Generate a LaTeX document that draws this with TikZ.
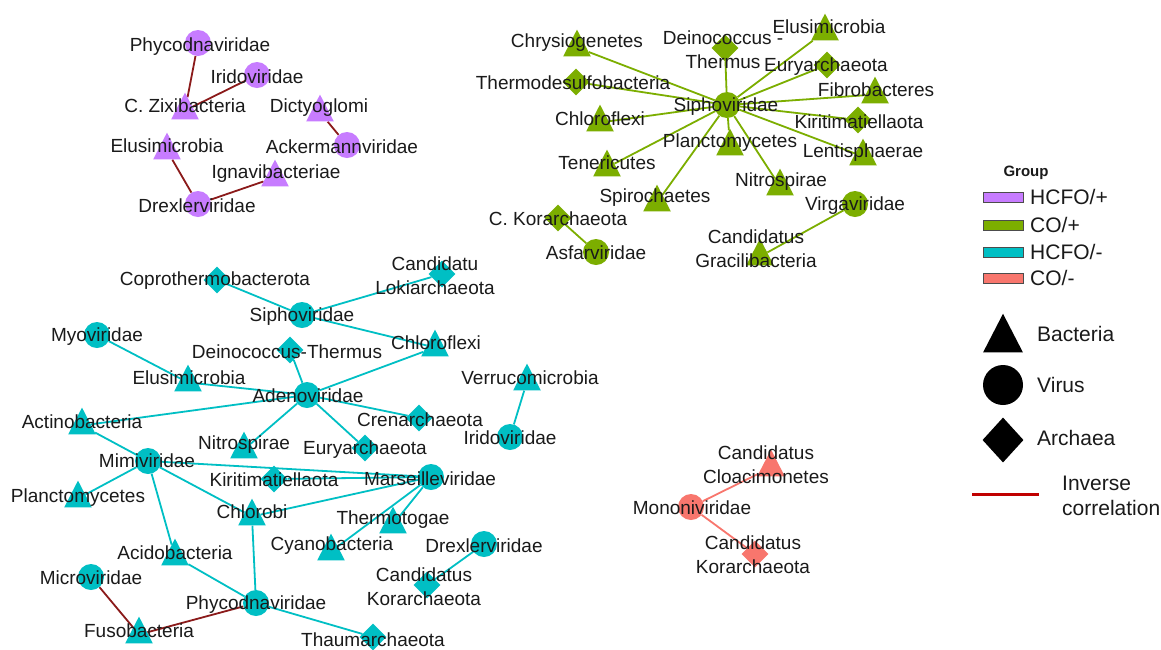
\documentclass[tikz,border=0pt]{standalone}
\usepackage{fontspec}
\setmainfont{Liberation Sans}
\usetikzlibrary{shapes.geometric,backgrounds}
\definecolor{cpur}{HTML}{C77CFF}
\definecolor{cgrn}{HTML}{7CAE00}
\definecolor{ccya}{HTML}{00BFC4}
\definecolor{cred}{HTML}{F8766D}
\definecolor{cinv}{HTML}{8B1A1A}
\definecolor{clegred}{HTML}{C00000}
\definecolor{ctxt}{HTML}{1A1A1A}
\tikzset{
  vir/.style={circle, minimum size=26pt, inner sep=0pt, draw=none},
  bac/.style={regular polygon, regular polygon sides=3, minimum size=32pt, inner sep=0pt, draw=none, yshift=-4.5pt, yscale=1.12},
  arc/.style={diamond, minimum width=27pt, minimum height=27pt, inner sep=0pt, draw=none},
  lbl/.style={font=\fontsize{19}{24}\selectfont, inner sep=0pt, align=center, text=ctxt},
  gedge/.style={line width=1.8pt, draw=cgrn},
  cedge/.style={line width=1.8pt, draw=ccya},
  redge/.style={line width=1.8pt, draw=cred},
  iedge/.style={line width=1.8pt, draw=cinv},
  legbox/.style={rectangle, minimum width=40pt, minimum height=10pt, inner sep=0pt, draw=black!70, line width=1pt},
  leglbl/.style={font=\fontsize{21}{25}\selectfont, inner sep=0pt, anchor=west, align=left, text=ctxt},
}
\begin{document}
\begin{tikzpicture}[x=1pt,y=-1pt]
\useasboundingbox (0,0) rectangle (1161,649);
% ---------- purple cluster (HCFO/+)
\node[vir,fill=cpur] (p1) at (198,43) {};
\node[vir,fill=cpur] (p2) at (257,75) {};
\node[bac,fill=cpur] (p3) at (185,106) {};
\node[bac,fill=cpur] (p4) at (320,108) {};
\node[vir,fill=cpur] (p5) at (347,145) {};
\node[bac,fill=cpur] (p6) at (167,146) {};
\node[bac,fill=cpur] (p7) at (275,173) {};
\node[vir,fill=cpur] (p8) at (198,204) {};
% ---------- green cluster (CO/+)
\node[vir,fill=cgrn] (g0) at (727,105) {};
\node[bac,fill=cgrn] (g1) at (577,43) {};
\node[arc,fill=cgrn] (g2) at (725,48) {};
\node[bac,fill=cgrn] (g3) at (825,27) {};
\node[arc,fill=cgrn] (g4) at (827,65) {};
\node[bac,fill=cgrn] (g5) at (875,90) {};
\node[arc,fill=cgrn] (g6) at (576,82) {};
\node[bac,fill=cgrn] (g7) at (600,118) {};
\node[arc,fill=cgrn] (g8) at (858,120) {};
\node[bac,fill=cgrn] (g9) at (730,142) {};
\node[bac,fill=cgrn] (g10) at (863,152) {};
\node[bac,fill=cgrn] (g11) at (607,163) {};
\node[bac,fill=cgrn] (g12) at (780,182) {};
\node[bac,fill=cgrn] (g13) at (657,198) {};
\node[arc,fill=cgrn] (g14) at (558,218) {};
\node[vir,fill=cgrn] (g15) at (596,252) {};
\node[vir,fill=cgrn] (g16) at (855,204) {};
\node[bac,fill=cgrn] (g17) at (760,252) {};
% ---------- cyan cluster (HCFO/-)
\node[arc,fill=ccya] (c1) at (217,280) {};
\node[arc,fill=ccya] (c2) at (442,274) {};
\node[vir,fill=ccya] (c3) at (302,315) {};
\node[vir,fill=ccya] (c4) at (97,335) {};
\node[bac,fill=ccya] (c5) at (435,343) {};
\node[arc,fill=ccya] (c6) at (290,350) {};
\node[bac,fill=ccya] (c7) at (188,378) {};
\node[vir,fill=ccya] (c8) at (307,395) {};
\node[bac,fill=ccya] (c9) at (82,421) {};
\node[arc,fill=ccya] (c10) at (419,418) {};
\node[bac,fill=ccya] (c11) at (527,377) {};
\node[vir,fill=ccya] (c12) at (510,437) {};
\node[bac,fill=ccya] (c13) at (244,445) {};
\node[arc,fill=ccya] (c14) at (365,448) {};
\node[vir,fill=ccya] (c15) at (148,461) {};
\node[arc,fill=ccya] (c16) at (274,479) {};
\node[vir,fill=ccya] (c17) at (431,477) {};
\node[bac,fill=ccya] (c18) at (78,494) {};
\node[bac,fill=ccya] (c19) at (252,512) {};
\node[bac,fill=ccya] (c20) at (393,520) {};
\node[bac,fill=ccya] (c21) at (331,547) {};
\node[vir,fill=ccya] (c22) at (484,544) {};
\node[bac,fill=ccya] (c23) at (175,552) {};
\node[vir,fill=ccya] (c24) at (91,577) {};
\node[arc,fill=ccya] (c25) at (427,585) {};
\node[vir,fill=ccya] (c26) at (256,603) {};
\node[bac,fill=ccya] (c27) at (139,630) {};
\node[arc,fill=ccya] (c28) at (373,637) {};
% ---------- red cluster (CO/-)
\node[bac,fill=cred] (r1) at (771,463) {};
\node[vir,fill=cred] (r2) at (691,507) {};
\node[arc,fill=cred] (r3) at (755,554) {};
% ---------- edges
\begin{scope}[on background layer]
\fill[white] (0,0) rectangle (1161,649);
\draw[iedge] (p1) -- (p3);
\draw[iedge] (p2) -- (p3);
\draw[iedge] (p4) -- (p5);
\draw[iedge] (p6) -- (p8);
\draw[iedge] (p7) -- (p8);
\foreach \k in {1,...,13} {\draw[gedge] (g0) -- (g\k);}
\draw[gedge] (g14) -- (g15);
\draw[gedge] (g16) -- (g17);
\draw[cedge] (c1) -- (c3);
\draw[cedge] (c3) -- (c2);
\draw[cedge] (c3) -- (c5);
\draw[cedge] (c4) -- (c7);
\draw[cedge] (c7) -- (c8);
\draw[cedge] (c6) -- (c8);
\draw[cedge] (c5) -- (c8);
\draw[cedge] (c8) -- (c9);
\draw[cedge] (c8) -- (c10);
\draw[cedge] (c8) -- (c13);
\draw[cedge] (c8) -- (c14);
\draw[cedge] (c9) -- (c15);
\draw[cedge] (c15) -- (c18);
\draw[cedge] (c15) -- (c17);
\draw[cedge] (c16) -- (c17);
\draw[cedge] (c15) -- (c19);
\draw[cedge] (c19) -- (c17);
\draw[cedge] (c17) -- (c20);
\draw[cedge] (c17) -- (c21);
\draw[cedge] (c15) -- (c23);
\draw[cedge] (c23) -- (c26);
\draw[cedge] (c19) -- (c26);
\draw[cedge] (c26) -- (c28);
\draw[cedge] (c22) -- (c25);
\draw[cedge] (c11) -- (c12);
\draw[iedge] (c24) -- (c27);
\draw[iedge] (c27) -- (c26);
\draw[redge] (r2) -- (r1);
\draw[redge] (r2) -- (r3);
\end{scope}
% ---------- labels
\node[lbl] (p1t) at (200,47) {Phycodnaviridae};
\node[lbl] (p2t) at (257,77) {Iridoviridae};
\node[lbl] (p3t) at (185,106) {C. Zixibacteria};
\node[lbl] (p4t) at (319,108) {Dictyoglomi};
\node[lbl] (p5t) at (342,147) {Ackermannviridae};
\node[lbl] (p6t) at (167,146) {Elusimicrobia};
\node[lbl] (p7t) at (276,174) {Ignavibacteriae};
\node[lbl] (p8t) at (197,206) {Drexlerviridae};
\node[lbl] (g0t) at (726,107) {Siphoviridae};
\node[lbl] (g1t) at (577,43) {Chrysiogenetes};
\node[lbl] (g2t) at (723,50) {Deinococcus -\\Thermus};
\node[lbl] (g3t) at (829,27) {Elusimicrobia};
\node[lbl] (g4t) at (826,67) {Euryarchaeota};
\node[lbl] (g5t) at (876,90) {Fibrobacteres};
\node[lbl] (g6t) at (573,83) {Thermodesulfobacteria};
\node[lbl] (g7t) at (600,119) {Chloroflexi};
\node[lbl] (g8t) at (859,122) {Kiritimatiellaota};
\node[lbl] (g9t) at (730,143) {Planctomycetes};
\node[lbl] (g10t) at (863,153) {Lentisphaerae};
\node[lbl] (g11t) at (607,163) {Tenericutes};
\node[lbl] (g12t) at (781,182) {Nitrospirae};
\node[lbl] (g13t) at (655,198) {Spirochaetes};
\node[lbl] (g14t) at (558,219) {C. Korarchaeota};
\node[lbl] (g15t) at (596,253) {Asfarviridae};
\node[lbl] (g16t) at (855,206) {Virgaviridae};
\node[lbl] (g17t) at (756,249) {Candidatus\\Gracilibacteria};
\node[lbl] (c1t) at (215,281) {Coprothermobacterota};
\node[lbl] (c2t) at (435,276) {Candidatu\\Lokiarchaeota};
\node[lbl] (c3t) at (302,317) {Siphoviridae};
\node[lbl] (c4t) at (97,337) {Myoviridae};
\node[lbl] (c5t) at (436,343) {Chloroflexi};
\node[lbl] (c6t) at (287,352) {Deinococcus-Thermus};
\node[lbl] (c7t) at (189,378) {Elusimicrobia};
\node[lbl] (c8t) at (308,396) {Adenoviridae};
\node[lbl] (c9t) at (82,422) {Actinobacteria};
\node[lbl] (c10t) at (420,420) {Crenarchaeota};
\node[lbl] (c11t) at (530,378) {Verrucomicrobia};
\node[lbl] (c12t) at (510,438) {Iridoviridae};
\node[lbl] (c13t) at (244,445) {Nitrospirae};
\node[lbl] (c14t) at (365,450) {Euryarchaeota};
\node[lbl] (c15t) at (147,461) {Mimiviridae};
\node[lbl] (c16t) at (274,480) {Kiritimatiellaota};
\node[lbl] (c17t) at (430,479) {Marseilleviridae};
\node[lbl] (c18t) at (78,498) {Planctomycetes};
\node[lbl] (c19t) at (252,512) {Chlorobi};
\node[lbl] (c20t) at (393,520) {Thermotogae};
\node[lbl] (c21t) at (332,546) {Cyanobacteria};
\node[lbl] (c22t) at (484,546) {Drexlerviridae};
\node[lbl] (c23t) at (175,553) {Acidobacteria};
\node[lbl] (c24t) at (91,578) {Microviridae};
\node[lbl] (c25t) at (424,587) {Candidatus\\Korarchaeota};
\node[lbl] (c26t) at (256,605) {Phycodnaviridae};
\node[lbl] (c27t) at (139,631) {Fusobacteria};
\node[lbl] (c28t) at (373,640) {Thaumarchaeota};
\node[lbl] (r1t) at (766,465) {Candidatus\\Cloacimonetes};
\node[lbl] (r2t) at (692,508) {Mononiviridae};
\node[lbl] (r3t) at (753,555) {Candidatus\\Korarchaeota};
% ---------- legend
\node[lbl, font=\bfseries\fontsize{15}{18}\selectfont] (lgT) at (1026,173) {Group};
\node[legbox, fill=cpur] (lg1) at (1003,197) {};
\node[legbox, fill=cgrn] (lg2) at (1003,225) {};
\node[legbox, fill=ccya] (lg3) at (1003,252) {};
\node[legbox, fill=cred] (lg4) at (1003,278) {};
\node[leglbl] (lg1t) at (1030,197) {HCFO/+};
\node[leglbl] (lg2t) at (1030,225) {CO/+};
\node[leglbl] (lg3t) at (1030,252) {HCFO/-};
\node[leglbl] (lg4t) at (1030,278) {CO/-};
\node[regular polygon, regular polygon sides=3, minimum size=46pt, inner sep=0pt, fill=black, yshift=-6.5pt, yscale=1.12] (lgB) at (1003,333) {};
\node[circle, minimum size=40pt, inner sep=0pt, fill=black] (lgV) at (1003,385) {};
\node[diamond, minimum width=41pt, minimum height=45pt, inner sep=0pt, fill=black] (lgA) at (1003,440) {};
\node[leglbl] (lgBt) at (1037,334) {Bacteria};
\node[leglbl] (lgVt) at (1037,385) {Virus};
\node[leglbl] (lgAt) at (1037,438) {Archaea};
\coordinate (lgL1) at (972,494);
\coordinate (lgL2) at (1039,494);
\draw[line width=3pt, draw=clegred] (lgL1) -- (lgL2);
\node[leglbl] (lgIt) at (1062,496) {Inverse\\correlation};
\end{tikzpicture}
\end{document}
